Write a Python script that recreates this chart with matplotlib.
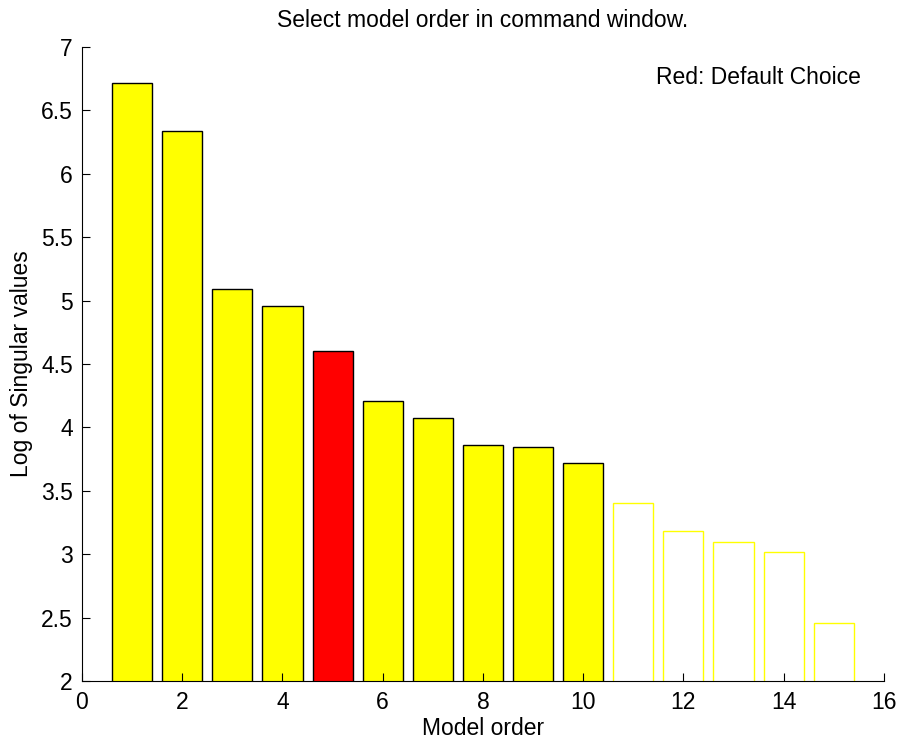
import numpy as np
import matplotlib.pyplot as plt

plt.rcParams['font.family'] = ['Liberation Sans', 'DejaVu Sans']

# Log of singular values per model order
orders = np.arange(1, 16)
log_sv = [6.716, 6.337, 5.09, 4.957, 4.60, 4.21, 4.075, 3.86, 3.845, 3.72,
          3.40, 3.18, 3.10, 3.02, 2.46]
default_order = 5
n_filled = 10

fig = plt.figure(figsize=(8.98, 7.4), dpi=100)
ax = fig.add_axes([0.0913, 0.0797, 0.893, 0.857])

for k, v in zip(orders, log_sv):
    if k == default_order:
        ax.bar(k, v, width=0.8, color='red', edgecolor='black', linewidth=1)
    elif k <= n_filled:
        ax.bar(k, v, width=0.8, color='yellow', edgecolor='black', linewidth=1)
    else:
        ax.bar(k, v, width=0.8, color='white', edgecolor='yellow', linewidth=1)

ax.set_xlim(0, 16)
ax.set_ylim(2, 7)
ax.set_xticks(np.arange(0, 17, 2))
ax.set_yticks(np.arange(2, 7.01, 0.5))
ax.set_yticklabels(['2', '2.5', '3', '3.5', '4', '4.5', '5', '5.5', '6', '6.5', '7'])
ax.spines['top'].set_visible(False)
ax.spines['right'].set_visible(False)
ax.tick_params(direction='in', length=6, labelsize=16.5)
ax.tick_params(axis='y', pad=6.5)
ax.tick_params(axis='x', pad=7)

ax.text(11.46, 6.755, 'Red: Default Choice', fontsize=16.5, va='center', ha='left')
ax.set_title('Select model order in command window.', fontsize=16.5, pad=14)
ax.set_xlabel('Model order', fontsize=16.5, labelpad=2)
ax.set_ylabel('Log of Singular values', fontsize=16.5, labelpad=6)

fig.savefig('out.png')
